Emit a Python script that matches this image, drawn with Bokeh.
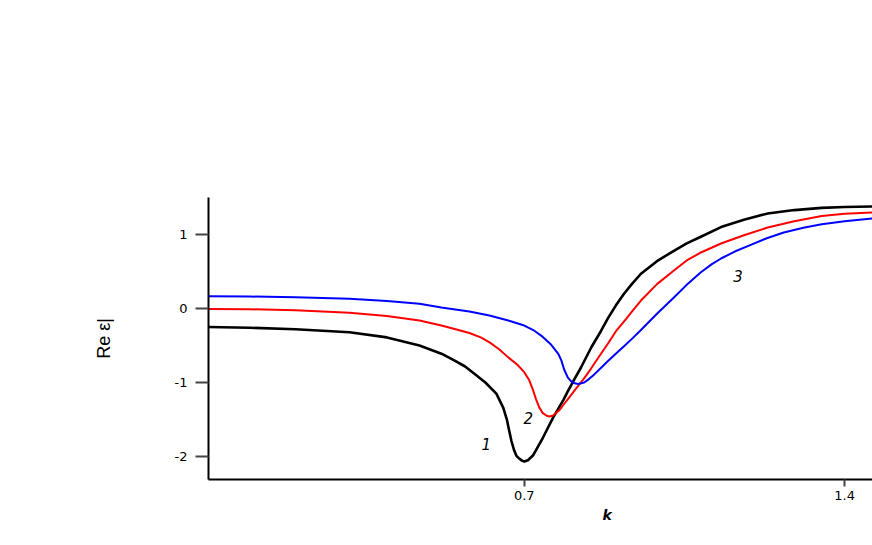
from bokeh.plotting import figure
from bokeh.models import Range1d, FixedTicker, Label, Title
from bokeh.embed import file_html
from bokeh.resources import INLINE

# Curve 1 (black)
k1 = [0.01, 0.10, 0.20, 0.318, 0.40, 0.471, 0.519, 0.547, 0.570, 0.591, 0.615, 0.639, 0.654,
      0.662, 0.667, 0.672, 0.678, 0.683, 0.689, 0.695, 0.700, 0.708, 0.719, 0.741, 0.763,
      0.785, 0.796, 0.810, 0.824, 0.846, 0.868, 0.883, 0.900, 0.918, 0.935, 0.955, 0.990,
      1.027, 1.055, 1.086, 1.130, 1.180, 1.232, 1.290, 1.350, 1.400, 1.461]
e1 = [-0.25, -0.26, -0.28, -0.32, -0.39, -0.50, -0.61, -0.70, -0.78, -0.88, -1.00, -1.149, -1.338,
      -1.50, -1.649, -1.79, -1.919, -1.99, -2.027, -2.055, -2.068, -2.05, -1.986, -1.743, -1.473,
      -1.24, -1.108, -0.95, -0.797, -0.53, -0.30, -0.13, 0.04, 0.20, 0.33, 0.47, 0.64,
      0.78, 0.88, 0.97, 1.10, 1.20, 1.284, 1.33, 1.36, 1.372, 1.378]

# Curve 2 (red)
k2 = [0.01, 0.10, 0.20, 0.318, 0.40, 0.471, 0.519, 0.550, 0.580, 0.605, 0.625, 0.645, 0.665,
      0.685, 0.700, 0.711, 0.719, 0.726, 0.733, 0.740, 0.748, 0.755, 0.763, 0.776, 0.787,
      0.798, 0.813, 0.830, 0.846, 0.868, 0.883, 0.900, 0.920, 0.937, 0.955, 0.990, 1.027,
      1.055, 1.086, 1.130, 1.180, 1.232, 1.290, 1.350, 1.400, 1.461]
e2 = [-0.005, -0.01, -0.025, -0.058, -0.10, -0.162, -0.230, -0.28, -0.33, -0.39, -0.46, -0.55, -0.66,
      -0.76, -0.86, -0.97, -1.10, -1.23, -1.338, -1.41, -1.446, -1.46, -1.446, -1.378, -1.29,
      -1.203, -1.081, -0.95, -0.811, -0.608, -0.473, -0.31, -0.16, -0.03, 0.108, 0.33, 0.514,
      0.65, 0.757, 0.878, 0.99, 1.095, 1.18, 1.25, 1.28, 1.297]

# Curve 3 (blue)
k3 = [0.01, 0.10, 0.20, 0.318, 0.40, 0.471, 0.519, 0.580, 0.624, 0.665, 0.700, 0.722, 0.740,
      0.759, 0.774, 0.781, 0.787, 0.795, 0.802, 0.810, 0.818, 0.831, 0.842, 0.853, 0.868,
      0.883, 0.900, 0.918, 0.937, 0.955, 0.990, 1.027, 1.055, 1.086, 1.110, 1.130, 1.160,
      1.195, 1.230, 1.267, 1.310, 1.350, 1.400, 1.461]
e3 = [0.166, 0.162, 0.152, 0.131, 0.10, 0.064, 0.014, -0.04, -0.095, -0.162, -0.23, -0.30, -0.38,
      -0.49, -0.608, -0.70, -0.82, -0.93, -0.98, -1.01, -1.02, -1.00, -0.95, -0.89, -0.80,
      -0.71, -0.61, -0.51, -0.40, -0.29, -0.07, 0.149, 0.32, 0.49, 0.60, 0.676, 0.77,
      0.86, 0.95, 1.027, 1.09, 1.14, 1.18, 1.216]

x_ticks = [0.7, 1.4]
x_tick_text = ["0.7", "1.4"]
y_ticks = [-2, -1, 0, 1]
y_tick_text = ["-2", "-1", "0", "1"]

curve_labels = ["1", "2", "3"]
label_k = [0.617, 0.709, 1.167]
label_e = [-1.824, -1.473, 0.446]

p = figure(width=872, height=545, output_backend="svg", toolbar_location=None,
           x_range=Range1d(0.01, 1.461), y_range=Range1d(-2.31, 1.5),
           min_border_left=208, min_border_right=0, min_border_top=197, min_border_bottom=66)

p.line(k1, e1, line_color="black", line_width=2.6, line_join="round")
p.line(k2, e2, line_color="#ff0000", line_width=2, line_join="round")
p.line(k3, e3, line_color="#0000ff", line_width=2, line_join="round")

for t, x, y in zip(curve_labels, label_k, label_e):
    p.add_layout(Label(x=x, y=y, text=t, text_font="DejaVu Sans", text_font_style="italic",
                       text_font_size="15px", text_align="center", text_baseline="middle",
                       text_color="black"))

p.grid.visible = False
p.outline_line_color = None
p.background_fill_color = "white"
p.border_fill_color = "white"

p.xaxis.ticker = FixedTicker(ticks=x_ticks)
p.yaxis.ticker = FixedTicker(ticks=y_ticks)
p.xaxis.major_label_overrides = dict(zip(x_ticks, x_tick_text))
p.yaxis.major_label_overrides = dict(zip(y_ticks, y_tick_text))

for ax in (p.xaxis[0], p.yaxis[0]):
    ax.axis_line_width = 2
    ax.axis_line_color = "black"
    ax.major_tick_line_color = "#444444"
    ax.major_tick_line_width = 2
    ax.major_tick_in = 0
    ax.minor_tick_line_color = None
    ax.major_label_text_font = "DejaVu Sans"
    ax.major_label_text_font_size = "13px"
    ax.major_label_text_color = "black"
    ax.axis_label_text_color = "black"

p.xaxis.major_tick_out = 7
p.xaxis.major_label_standoff = 4

p.yaxis.major_tick_out = 13
p.yaxis.major_label_standoff = 8

p.yaxis.axis_label = "Re ε|"
p.yaxis.axis_label_text_font = "Liberation Sans"
p.yaxis.axis_label_text_font_style = "normal"
p.yaxis.axis_label_text_font_size = "18px"
p.yaxis.axis_label_standoff = 58

# x-axis title "k", placed off-centre below the axis as in the original
p.add_layout(Title(text="k", align="left", offset=394, text_font="DejaVu Sans",
                   text_font_style="bold italic", text_font_size="14px",
                   text_color="black", standoff=4), "below")

open("out.html", "w").write(file_html(p, INLINE))
